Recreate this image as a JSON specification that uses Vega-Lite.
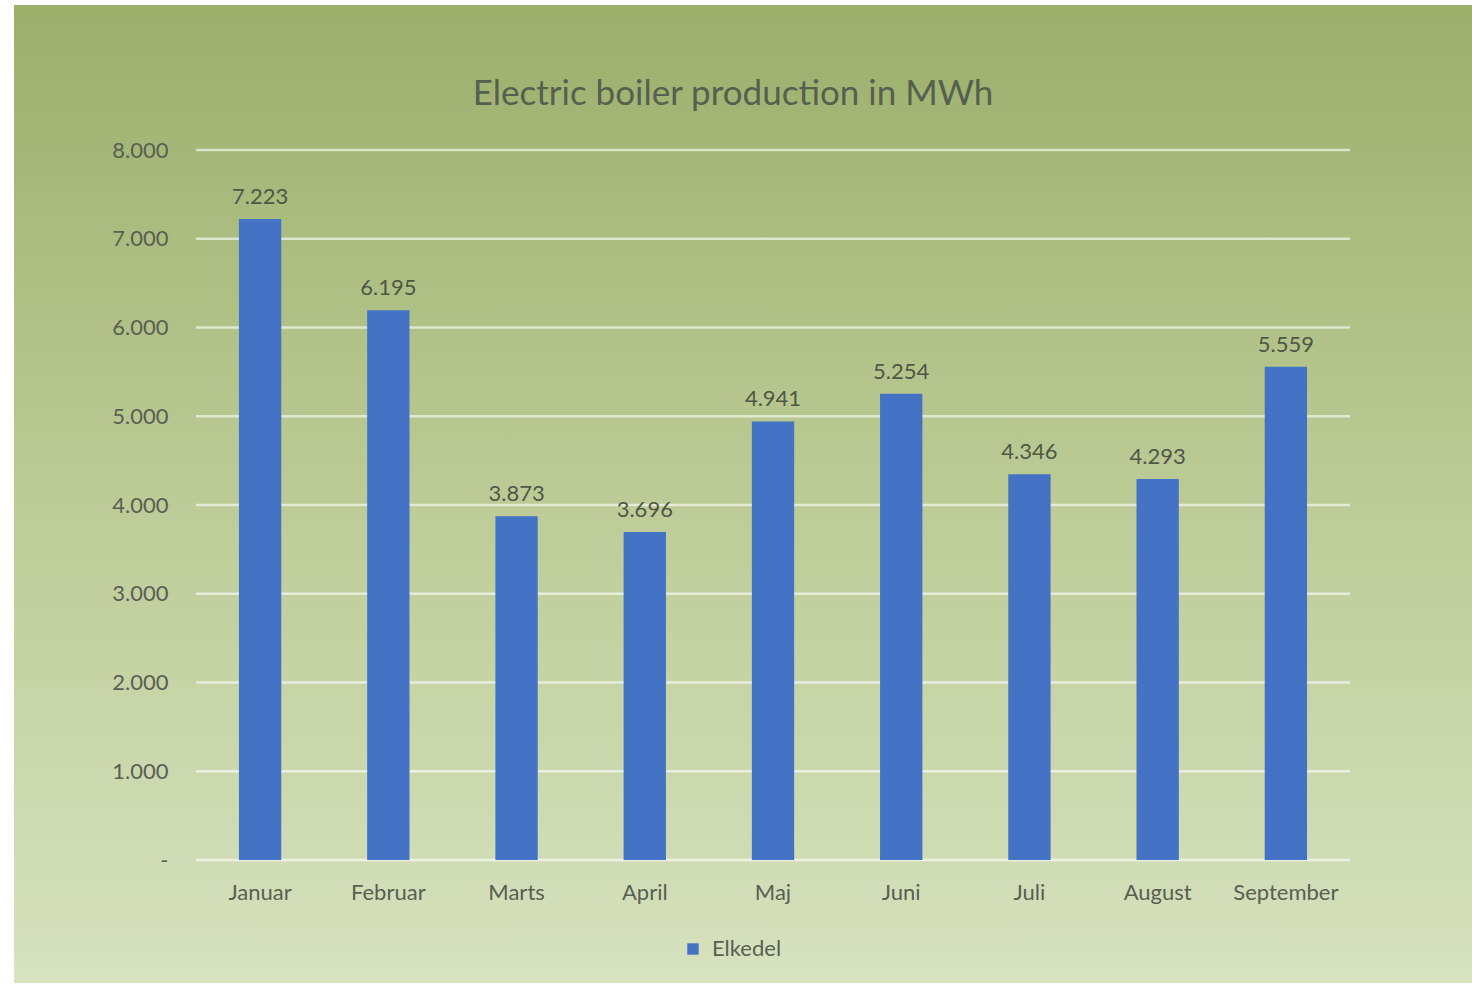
{
  "$schema": "https://vega.github.io/schema/vega-lite/v6.json",
  "autosize": {"type": "none"},
  "width": 1154,
  "height": 710,
  "padding": {"left": 196, "top": 150, "right": 122, "bottom": 125},
  "background": "#ffffff",
  "config": {
    "font": "Lato",
    "view": {"stroke": null},
    "axis": {"labelFont": "Lato", "labelColor": "#595f52", "labelFontSize": 22}
  },
  "title": {
    "text": "Electric boiler production in MWh",
    "fontSize": 35,
    "fontWeight": "normal",
    "color": "#575f4e",
    "font": "Lato",
    "anchor": "middle",
    "frame": "bounds",
    "offset": 0,
    "baseline": "alphabetic",
    "dy": 135,
    "dx": -10
  },
  "datasets": {
    "prod": [
      {"month": "Januar", "value": 7223, "series": "Elkedel"},
      {"month": "Februar", "value": 6195, "series": "Elkedel"},
      {"month": "Marts", "value": 3873, "series": "Elkedel"},
      {"month": "April", "value": 3696, "series": "Elkedel"},
      {"month": "Maj", "value": 4941, "series": "Elkedel"},
      {"month": "Juni", "value": 5254, "series": "Elkedel"},
      {"month": "Juli", "value": 4346, "series": "Elkedel"},
      {"month": "August", "value": 4293, "series": "Elkedel"},
      {"month": "September", "value": 5559, "series": "Elkedel"}
    ],
    "grid": [
      {"g": 0}, {"g": 1000}, {"g": 2000}, {"g": 3000}, {"g": 4000},
      {"g": 5000}, {"g": 6000}, {"g": 7000}, {"g": 8000}
    ]
  },
  "layer": [
    {
      "data": {"values": [{"bg": 1}]},
      "mark": {
        "type": "rect",
        "color": {
          "gradient": "linear",
          "x1": 0, "y1": 0, "x2": 0, "y2": 1,
          "stops": [
            {"offset": 0, "color": "#9baf6b"},
            {"offset": 0.5, "color": "#bccb96"},
            {"offset": 1, "color": "#d7e2bf"}
          ]
        }
      },
      "encoding": {
        "x": {"value": -182},
        "x2": {"value": 1276},
        "y": {"value": -145},
        "y2": {"value": 833}
      }
    },
    {
      "data": {"name": "grid"},
      "mark": {"type": "rule", "color": "#ffffff", "opacity": 0.6, "strokeWidth": 2.5},
      "encoding": {
        "y": {
          "field": "g", "type": "quantitative", "title": null,
          "scale": {"domain": [0, 8000], "nice": false},
          "axis": {
            "title": null, "domain": false, "ticks": false, "grid": false, "zindex": 2,
            "values": [0, 1000, 2000, 3000, 4000, 5000, 6000, 7000, 8000],
            "labelExpr": "datum.value == 0 ? '-\u00a0\u00a0\u00a0' : replace(format(datum.value, ',d'), ',', '.')",
            "labelPadding": 28
          }
        }
      }
    },
    {
      "data": {"name": "prod"},
      "layer": [
        {
          "mark": {"type": "bar"},
          "encoding": {
            "x": {
              "field": "month", "type": "nominal", "sort": null,
              "scale": {"paddingInner": 0.67, "paddingOuter": 0.335},
              "axis": {"title": null, "labelAngle": 0, "domain": false, "ticks": false, "labelPadding": 22, "grid": false, "zindex": 2}
            },
            "y": {
              "field": "value", "type": "quantitative", "title": null,
              "scale": {"domain": [0, 8000], "nice": false},
              "axis": {
                "title": null, "domain": false, "ticks": false, "grid": false, "zindex": 2,
                "values": [0, 1000, 2000, 3000, 4000, 5000, 6000, 7000, 8000],
                "labelExpr": "datum.value == 0 ? '-\u00a0\u00a0\u00a0' : replace(format(datum.value, ',d'), ',', '.')",
                "labelPadding": 28
              }
            },
            "color": {
              "field": "series", "type": "nominal",
              "scale": {"range": ["#4472c4"]},
              "legend": {
                "title": null, "orient": "none", "direction": "horizontal",
                "legendX": 486, "legendY": 788,
                "symbolType": "square", "symbolSize": 130, "symbolOpacity": 1,
                "labelFontSize": 22, "labelColor": "#595f52", "labelFont": "Lato", "labelOffset": 8
              }
            }
          }
        },
        {
          "mark": {"type": "text", "baseline": "bottom", "dy": -10, "fontSize": 22, "color": "#4f5746", "font": "Lato"},
          "encoding": {
            "x": {"field": "month", "type": "nominal", "sort": null},
            "y": {"field": "value", "type": "quantitative"},
            "text": {"field": "label"}
          },
          "transform": [
            {"calculate": "replace(format(datum.value, ',d'), ',', '.')", "as": "label"}
          ]
        }
      ]
    }
  ]
}
